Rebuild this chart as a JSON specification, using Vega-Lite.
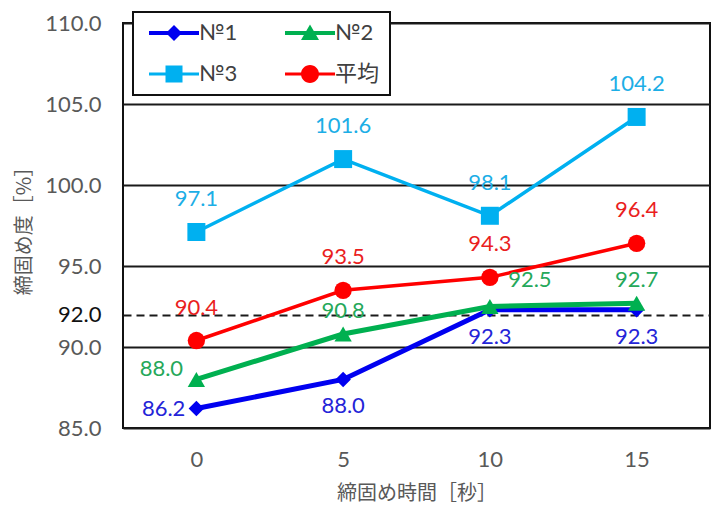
{
  "$schema": "https://vega.github.io/schema/vega-lite/v6.json",
  "width": 587,
  "height": 405,
  "autosize": {"type": "none"},
  "padding": {"left": 123, "top": 23, "right": 5, "bottom": 81},
  "background": "white",
  "config": {
    "view": {"stroke": "#111111", "strokeWidth": 2},
    "font": "Lato, Noto Sans CJK JP",
    "legend": {"strokeWidth": 2}
  },
  "data": {
    "values": [
      {"time": 0, "series": "№1", "value": 86.2},
      {"time": 5, "series": "№1", "value": 88.0},
      {"time": 10, "series": "№1", "value": 92.3},
      {"time": 15, "series": "№1", "value": 92.3},
      {"time": 0, "series": "№2", "value": 88.0},
      {"time": 5, "series": "№2", "value": 90.8},
      {"time": 10, "series": "№2", "value": 92.5},
      {"time": 15, "series": "№2", "value": 92.7},
      {"time": 0, "series": "№3", "value": 97.1},
      {"time": 5, "series": "№3", "value": 101.6},
      {"time": 10, "series": "№3", "value": 98.1},
      {"time": 15, "series": "№3", "value": 104.2},
      {"time": 0, "series": "平均", "value": 90.4},
      {"time": 5, "series": "平均", "value": 93.5},
      {"time": 10, "series": "平均", "value": 94.3},
      {"time": 15, "series": "平均", "value": 96.4}
    ]
  },
  "encoding": {
    "x": {
      "field": "time",
      "type": "quantitative",
      "scale": {"domain": [-2.5, 17.5], "nice": false, "zero": false},
      "axis": {
        "values": [0, 5, 10, 15],
        "title": "締固め時間［秒］",
        "grid": false,
        "ticks": false,
        "domain": false,
        "labelFontSize": 22,
        "labelColor": "#595959",
        "labelPadding": 21,
        "titleFont": "Noto Sans CJK JP",
        "titleFontSize": 20,
        "titleFontWeight": "normal",
        "titleColor": "#595959",
        "titlePadding": 13
      }
    },
    "y": {
      "field": "value",
      "type": "quantitative",
      "scale": {"domain": [85, 110], "nice": false, "zero": false},
      "axis": {
        "values": [85, 90, 92, 95, 100, 105, 110],
        "format": ".1f",
        "title": "締固め度［%］",
        "ticks": false,
        "domain": false,
        "grid": true,
        "gridColor": "#1a1a1a",
        "gridWidth": 2,
        "gridOpacity": 1,
        "gridDash": {"condition": {"test": "datum.value === 92", "value": [8, 5]}, "value": []},
        "labelFontSize": 22,
        "labelColor": {"condition": {"test": "datum.value === 92", "value": "#111111"}, "value": "#595959"},
        "labelPadding": 22,
        "titleFont": "Noto Sans CJK JP",
        "titleFontSize": 20,
        "titleFontWeight": "normal",
        "titleColor": "#595959",
        "titlePadding": 10
      }
    }
  },
  "layer": [
    {
      "transform": [{"filter": "datum.series === '№1'"}],
      "mark": {"type": "line", "color": "#0000F0", "strokeWidth": 5, "point": {"shape": "diamond", "filled": true, "size": 240, "opacity": 1, "color": "#0000F0"}},
      "encoding": {}
    },
    {
      "transform": [{"filter": "datum.series === '№2'"}],
      "mark": {"type": "line", "color": "#00B050", "strokeWidth": 5, "point": {"shape": "triangle-up", "filled": true, "size": 300, "opacity": 1, "color": "#00B050"}},
      "encoding": {}
    },
    {
      "transform": [{"filter": "datum.series === '№3'"}],
      "mark": {"type": "line", "color": "#00B0F0", "strokeWidth": 3.5, "point": {"shape": "square", "filled": true, "size": 324, "opacity": 1, "color": "#00B0F0"}},
      "encoding": {}
    },
    {
      "transform": [{"filter": "datum.series === '平均'"}],
      "mark": {"type": "line", "color": "#FF0000", "strokeWidth": 3.5, "point": {"shape": "circle", "filled": true, "size": 300, "opacity": 1, "color": "#FF0000"}},
      "encoding": {}
    },
    {
      "transform": [{"filter": "datum.series === '№3' || datum.series === '平均'"}],
      "mark": {"type": "text", "fontSize": 22, "baseline": "middle", "dy": -33},
      "encoding": {
        "text": {"field": "value", "type": "quantitative", "format": ".1f"},
        "fill": {"field": "series", "type": "nominal", "legend": null,
          "scale": {"range": ["#2424D8", "#25A85A", "#1CAEE6", "#EA1E1E"]}}
      }
    },
    {
      "transform": [{"filter": "datum.series === '№2' && (datum.time === 5 || datum.time === 15)"}],
      "mark": {"type": "text", "fontSize": 22, "baseline": "middle", "dy": -23},
      "encoding": {
        "text": {"field": "value", "type": "quantitative", "format": ".1f"},
        "fill": {"field": "series", "type": "nominal", "legend": null}
      }
    },
    {
      "transform": [{"filter": "datum.series === '№2' && datum.time === 0"}],
      "mark": {"type": "text", "fontSize": 22, "baseline": "middle", "dx": -35, "dy": -10},
      "encoding": {
        "text": {"field": "value", "type": "quantitative", "format": ".1f"},
        "fill": {"field": "series", "type": "nominal", "legend": null}
      }
    },
    {
      "transform": [{"filter": "datum.series === '№2' && datum.time === 10"}],
      "mark": {"type": "text", "fontSize": 22, "baseline": "middle", "dx": 40, "dy": -27},
      "encoding": {
        "text": {"field": "value", "type": "quantitative", "format": ".1f"},
        "fill": {"field": "series", "type": "nominal", "legend": null}
      }
    },
    {
      "transform": [{"filter": "datum.series === '№1' && datum.time === 0"}],
      "mark": {"type": "text", "fontSize": 22, "baseline": "middle", "align": "right", "dx": -11},
      "encoding": {
        "text": {"field": "value", "type": "quantitative", "format": ".1f"},
        "fill": {"field": "series", "type": "nominal", "legend": null}
      }
    },
    {
      "transform": [{"filter": "datum.series === '№1' && datum.time > 0"}],
      "mark": {"type": "text", "fontSize": 22, "baseline": "middle", "dy": 27},
      "encoding": {
        "text": {"field": "value", "type": "quantitative", "format": ".1f"},
        "fill": {"field": "series", "type": "nominal", "legend": null}
      }
    },
    {
      "transform": [{"filter": "false"}],
      "mark": {"type": "point", "filled": true, "opacity": 1, "size": 400},
      "encoding": {
        "color": {
          "field": "series",
          "type": "nominal",
          "scale": {"domain": ["№1", "№3", "№2", "平均"], "range": ["#0000F0", "#00B0F0", "#00B050", "#FF0000"]},
          "legend": {
            "title": null,
            "orient": "none",
            "legendX": 10,
            "legendY": -11,
            "columns": 2,
            "fillColor": "white",
            "strokeColor": "#111111",
            "padding": 10,
            "rowPadding": 19,
            "columnPadding": 41,
            "symbolSize": 400,
            "symbolStrokeWidth": 0,
            "symbolOpacity": 1,
            "labelFont": "Lato, Noto Sans CJK JP",
            "labelFontSize": 22,
            "labelColor": "#404040",
            "labelOffset": 34
          }
        },
        "shape": {
          "field": "series",
          "type": "nominal",
          "scale": {
            "domain": ["№1", "№3", "№2", "平均"],
            "range": [
              "M-0.5,-0.2L4.5,-0.2L4.5,0.2L-0.5,0.2Z M2,-0.8L2.8,0L2,0.8L1.2,0Z",
              "M-0.5,-0.15L4.5,-0.15L4.5,0.15L-0.5,0.15Z M1.15,-0.85L2.85,-0.85L2.85,0.85L1.15,0.85Z",
              "M-0.5,-0.2L4.5,-0.2L4.5,0.2L-0.5,0.2Z M2,-0.85L2.9,0.7L1.1,0.7Z",
              "M-0.5,-0.15L4.5,-0.15L4.5,0.15L-0.5,0.15Z M1.1,0A0.9,0.9 0 1,1 2.9,0A0.9,0.9 0 1,1 1.1,0Z"
            ]
          }
        }
      }
    }
  ]
}
